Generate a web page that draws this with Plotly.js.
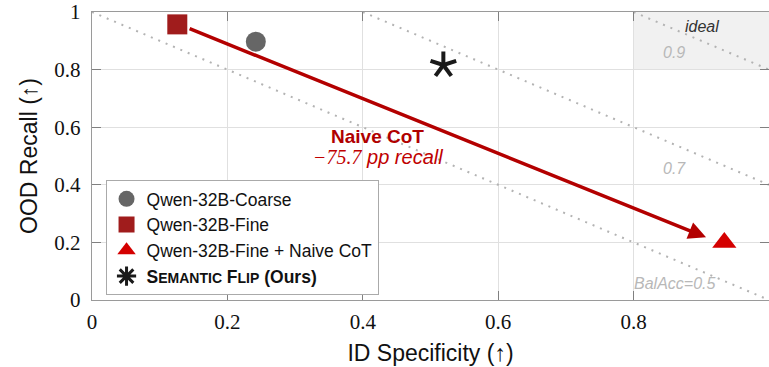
<!DOCTYPE html>
<html>
<head>
<meta charset="utf-8">
<script src="https://cdn.plot.ly/plotly-3.0.1.min.js"></script>
<style>html,body{margin:0;padding:0;background:#fff;}</style>
</head>
<body>
<div id="chart" style="width:769px;height:367px;"></div>
<script>
// ---- data ----
const seriesNames = ['Qwen-32B-Coarse', 'Qwen-32B-Fine', 'Qwen-32B-Fine + Naive CoT',
  '<b>S<span style="font-size:14px">EMANTIC</span> F<span style="font-size:14px">LIP</span> (Ours)</b>'];
const idSpecificity = [0.242, 0.126, 0.934, 0.519];
const oodRecall = [0.897, 0.957, 0.200, 0.816];
const balAccLevels = [0.5, 0.7, 0.9];
const balAccLabels = ['BalAcc=0.5', '0.7', '0.9'];
const tickVals = [0, 0.2, 0.4, 0.6, 0.8, 1];
const tickText = ['0', '0.2', '0.4', '0.6', '0.8', '1'];
const arrowFrom = [0.142, 0.944];
const arrowTo = [0.907, 0.218];
const idealRegion = [0.8, 1, 0.8, 1];

const W = 769, H = 367, ML = 92, MR = 0, MT = 12, MB = 67;
const pw = W - ML - MR, ph = H - MT - MB;

const traces = [];
// iso balanced-accuracy lines
balAccLevels.forEach(b => {
  const s = 2 * b;
  const x0 = Math.max(0, s - 1), x1 = Math.min(1, s);
  traces.push({x: [x0, x1], y: [s - x0, s - x1], mode: 'lines', showlegend: false, hoverinfo: 'skip',
    line: {color: '#b3b3b3', width: 2, dash: '2px,6px'}});
});

traces.push({x: [idSpecificity[0]], y: [oodRecall[0]], name: seriesNames[0], mode: 'markers',
  marker: {symbol: 'circle', size: 20, color: '#666666'}});
traces.push({x: [idSpecificity[1]], y: [oodRecall[1]], name: seriesNames[1], mode: 'markers',
  marker: {symbol: 'square', size: 20, color: '#a01c1c'}});
traces.push({x: [idSpecificity[2]], y: [oodRecall[2]], name: seriesNames[2], mode: 'markers',
  marker: {symbol: 'triangle-up', size: 21, color: '#d40000'}});

// five-spoke star drawn around the data point
const sx = [], sy = [];
const rpx = 13.5;
for (let k = 0; k < 5; k++) {
  const a = (90 + 72 * k) * Math.PI / 180;
  sx.push(idSpecificity[3], idSpecificity[3] + rpx * Math.cos(a) / pw, null);
  sy.push(oodRecall[3], oodRecall[3] + rpx * Math.sin(a) / ph, null);
}
traces.push({x: sx, y: sy, mode: 'lines', showlegend: false, hoverinfo: 'skip',
  line: {color: '#1a1a1a', width: 4}});
traces.push({x: [null], y: [null], name: seriesNames[3], mode: 'markers',
  marker: {symbol: 'asterisk-open', size: 20, color: '#1a1a1a', line: {color: '#1a1a1a', width: 3}}});

const gray = '#b8b8b8';
const annotations = [
  {x: arrowTo[0], y: arrowTo[1], ax: arrowFrom[0], ay: arrowFrom[1], axref: 'x', ayref: 'y',
   xref: 'x', yref: 'y', text: '', showarrow: true, arrowhead: 2, arrowsize: 1, arrowwidth: 3.5,
   arrowcolor: '#b30000', standoff: 0, startstandoff: 0},
  {x: 0.422, y: 0.567, xref: 'x', yref: 'y', showarrow: false, text: '<b>Naive CoT</b>',
   font: {family: 'Liberation Sans', size: 19, color: '#b00000'}},
  {x: 0.422, y: 0.497, xref: 'x', yref: 'y', showarrow: false,
   text: '<i><span style="font-family:Liberation Serif">\u221275.7</span> pp recall</i>',
   font: {family: 'Liberation Sans', size: 20, color: '#c00000'}},
  {x: 0.9007, y: 0.951, xref: 'x', yref: 'y', showarrow: false, text: '<i>ideal</i>',
   font: {family: 'Liberation Sans', size: 16, color: '#333333'}},
  {x: 0.86, y: 0.861, xref: 'x', yref: 'y', showarrow: false, text: '<i>' + balAccLabels[2] + '</i>',
   font: {family: 'Liberation Sans', size: 16, color: gray}},
  {x: 0.861, y: 0.458, xref: 'x', yref: 'y', showarrow: false, text: '<i>' + balAccLabels[1] + '</i>',
   font: {family: 'Liberation Sans', size: 16, color: gray}},
  {x: 0.861, y: 0.059, xref: 'x', yref: 'y', showarrow: false, text: '<i>' + balAccLabels[0] + '</i>',
   font: {family: 'Liberation Sans', size: 16, color: gray}}
];

const axisCommon = {
  range: [0, 1], tickvals: tickVals, ticktext: tickText, showgrid: true, gridcolor: '#e0e0e0', gridwidth: 1,
  zeroline: false, showline: true, linecolor: '#9a9a9a', linewidth: 1.3, mirror: 'ticks',
  ticks: 'inside', ticklen: 9, tickwidth: 1.3, tickcolor: '#808080', automargin: false,
  tickfont: {family: 'Liberation Serif', size: 21, color: '#111'}
};

const layout = {
  width: W, height: H, margin: {l: ML, r: MR, t: MT, b: MB},
  paper_bgcolor: '#fff', plot_bgcolor: '#fff',
  xaxis: Object.assign({}, axisCommon, {title: {text: 'ID Specificity (\u2191)', standoff: 12,
    font: {family: 'Liberation Sans', size: 23, color: '#111'}}, ticklabelstandoff: 2}),
  yaxis: Object.assign({}, axisCommon, {title: {text: 'OOD Recall (\u2191)', standoff: 10,
    font: {family: 'Liberation Sans', size: 23, color: '#111'}}, ticklabelstandoff: 6}),
  shapes: [{type: 'rect', xref: 'x', yref: 'y', x0: idealRegion[0], x1: idealRegion[1], y0: idealRegion[2], y1: idealRegion[3],
    fillcolor: '#f1f1f1', line: {width: 0}, layer: 'below'}],
  annotations: annotations,
  showlegend: true,
  legend: {x: 0.02, y: 0.4167, xanchor: 'left', yanchor: 'top', bgcolor: '#fff', bordercolor: '#aaaaaa',
    borderwidth: 1, font: {family: 'Liberation Sans', size: 17.5, color: '#111'}, tracegroupgap: 0}
};

Plotly.newPlot('chart', traces, layout, {staticPlot: true, displayModeBar: false});
</script>
</body>
</html>
